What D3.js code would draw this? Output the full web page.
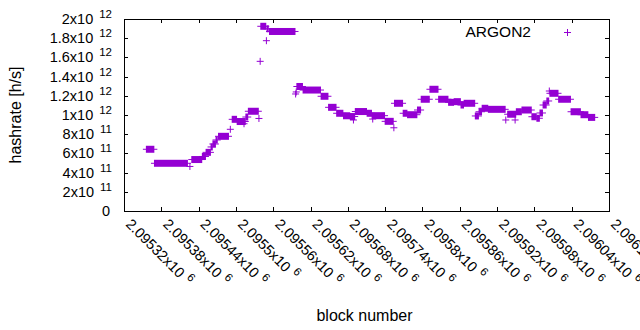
<!DOCTYPE html>
<html>
<head>
<meta charset="utf-8">
<script src="https://cdn.jsdelivr.net/npm/d3@7"></script>
<style>
  body { margin: 0; background: #fff; }
  text { font-family: "Liberation Sans", Arial, sans-serif; fill: #000; }
</style>
</head>
<body>
<svg id="chart" width="640" height="330"></svg>
<script>
// hashrate estimate per block, as runs of equal values (first block, last block, h/s)
let runStart = [2095356, 2095369, 2095426, 2095429, 2095446, 2095452, 2095460, 2095463, 2095468, 2095472,
                2095491, 2095494, 2095502, 2095513, 2095516, 2095520, 2095537, 2095539, 2095540, 2095549,
                2095550, 2095554, 2095596, 2095597, 2095598, 2095608, 2095637, 2095649, 2095662, 2095673,
                2095684, 2095689, 2095692, 2095711, 2095720, 2095719, 2095740, 2095754, 2095755, 2095769,
                2095776, 2095792, 2095798, 2095812, 2095826, 2095842, 2095851, 2095862, 2095867, 2095885,
                2095891, 2095896, 2095906, 2095934, 2095937, 2095949, 2095951, 2095960, 2095976, 2095984,
                2095989, 2095994, 2096000, 2096004, 2096005, 2096019, 2096039, 2096055, 2096067];
let runEnd   = [2095368, 2095422, 2095426, 2095445, 2095451, 2095459, 2095462, 2095467, 2095470, 2095488,
                2095491, 2095501, 2095515, 2095513, 2095519, 2095536, 2095537, 2095539, 2095548, 2095549,
                2095552, 2095595, 2095596, 2095597, 2095607, 2095636, 2095648, 2095661, 2095672, 2095683,
                2095691, 2095689, 2095710, 2095718, 2095720, 2095739, 2095753, 2095754, 2095768, 2095775,
                2095791, 2095797, 2095811, 2095825, 2095841, 2095850, 2095861, 2095866, 2095884, 2095890,
                2095895, 2095905, 2095933, 2095934, 2095950, 2095949, 2095959, 2095975, 2095983, 2095988,
                2095993, 2095999, 2096003, 2096004, 2096018, 2096038, 2096054, 2096066, 2096077];
let runValue = [6.43e11, 4.97e11, 4.64e11, 5.36e11, 5.68e11, 6.11e11, 6.67e11, 6.98e11, 7.40e11, 7.78e11,
                8.51e11, 9.55e11, 9.32e11, 9.09e11, 9.79e11, 1.039e12, 9.64e11, 1.559e12, 1.924e12, 1.774e12,
                1.898e12, 1.870e12, 1.219e12, 1.240e12, 1.297e12, 1.260e12, 1.195e12, 1.080e12, 1.018e12, 9.92e11,
                9.84e11, 9.48e11, 1.036e12, 1.018e12, 9.58e11, 9.93e11, 9.34e11, 8.67e11, 1.122e12, 1.018e12,
                1.003e12, 1.052e12, 1.164e12, 1.268e12, 1.164e12, 1.132e12, 1.139e12, 1.104e12, 1.122e12, 9.90e11,
                1.034e12, 1.070e12, 1.059e12, 9.48e11, 1.008e12, 9.48e11, 1.034e12, 1.052e12, 9.82e11, 9.66e11,
                1.021e12, 1.104e12, 1.146e12, 1.250e12, 1.226e12, 1.164e12, 1.034e12, 1.003e12, 9.75e11];

let xTicks = [2095320, 2095380, 2095440, 2095500, 2095560, 2095620, 2095680,
              2095740, 2095800, 2095860, 2095920, 2095980, 2096040, 2096100];
let yTicks = [0, 2e11, 4e11, 6e11, 8e11, 1e12, 1.2e12, 1.4e12, 1.6e12, 1.8e12, 2e12];

let seriesName = 'ARGON2';
let color = '#9400d3';

// plot frame
let pLeft = 124, pRight = 609, pTop = 19, pBottom = 211;
let ps = 3.5; // half size of the + point

let svg = d3.select('#chart');

let x = d3.scaleLinear().domain([xTicks[0], xTicks[xTicks.length - 1]]).range([pLeft, pRight]);
let y = d3.scaleLinear().domain([0, 2e12]).range([pBottom, pTop]);

// split a number in mantissa and exponent like gnuplot's %t / %T
function sci(v) {
  let e = Math.floor(Math.log10(v));
  let m = +(v / Math.pow(10, e)).toPrecision(8);
  return [m, e];
}

// ticks (inside, mirrored)
let ticks = svg.append('g').attr('stroke', '#000').attr('stroke-width', 1);
yTicks.forEach(t => {
  let yy = Math.round(y(t)) + 0.5;
  ticks.append('line').attr('x1', pLeft).attr('x2', pLeft + 4).attr('y1', yy).attr('y2', yy);
  ticks.append('line').attr('x1', pRight - 4).attr('x2', pRight).attr('y1', yy).attr('y2', yy);
});
xTicks.forEach(t => {
  let xx = Math.round(x(t)) + 0.5;
  ticks.append('line').attr('x1', xx).attr('x2', xx).attr('y1', pBottom).attr('y2', pBottom - 4);
  ticks.append('line').attr('x1', xx).attr('x2', xx).attr('y1', pTop).attr('y2', pTop + 4);
});

// y tick labels
yTicks.forEach(t => {
  let txt = svg.append('text')
    .attr('x', 112)
    .attr('y', y(t) + 5)
    .attr('text-anchor', 'end')
    .attr('font-size', 14.5);
  if (t === 0) {
    txt.attr('x', 110).text('0');
    return;
  }
  let [m, e] = sci(t);
  txt.append('tspan').text(m + 'x10');
  txt.append('tspan').attr('dx', 6).attr('dy', -6).attr('font-size', 11.5).text(e);
});

// x tick labels, rotated (the last one runs off the edge, as in the original)
xTicks.forEach(t => {
  let [m, e] = sci(t);
  let txt = svg.append('text')
    .attr('transform', `translate(${x(t) + 1},225) rotate(45)`)
    .attr('font-size', 14.5);
  txt.append('tspan').text(m + 'x10');
  txt.append('tspan').attr('dx', 5).attr('dy', -6).attr('font-size', 11.5).text(e);
});

// axis titles
svg.append('text')
  .attr('x', (pLeft + pRight) / 2 - 2)
  .attr('y', 321)
  .attr('text-anchor', 'middle')
  .attr('font-size', 16)
  .text('block number');

svg.append('text')
  .attr('transform', `translate(21,${(pTop + pBottom) / 2}) rotate(-90)`)
  .attr('text-anchor', 'middle')
  .attr('font-size', 16)
  .text('hashrate [h/s]');

// data: every run is a row of + points, drawn as its envelope
let marks = svg.append('g');
runStart.forEach((s, i) => {
  let x1 = x(s), x2 = x(runEnd[i]), yy = y(runValue[i]);
  marks.append('rect')
    .attr('x', x1 - 0.5)
    .attr('y', yy - ps)
    .attr('width', x2 - x1 + 1)
    .attr('height', ps * 2)
    .attr('fill', color);
  marks.append('line')
    .attr('x1', x1 - ps).attr('x2', x2 + ps)
    .attr('y1', yy).attr('y2', yy)
    .attr('stroke', color)
    .attr('stroke-width', 1);
});

// legend
svg.append('text')
  .attr('x', 531)
  .attr('y', 37)
  .attr('text-anchor', 'end')
  .attr('font-size', 15.5)
  .text(seriesName);
let lx = 567.5, ly = 32.5;
svg.append('path')
  .attr('d', `M${lx - ps},${ly}H${lx + ps}M${lx},${ly - ps}V${ly + ps}`)
  .attr('stroke', color)
  .attr('stroke-width', 1)
  .attr('fill', 'none');

// border
svg.append('rect')
  .attr('x', pLeft + 0.5).attr('y', pTop + 0.5)
  .attr('width', pRight - pLeft).attr('height', pBottom - pTop)
  .attr('fill', 'none')
  .attr('stroke', '#000')
  .attr('stroke-width', 1);
</script>
</body>
</html>
